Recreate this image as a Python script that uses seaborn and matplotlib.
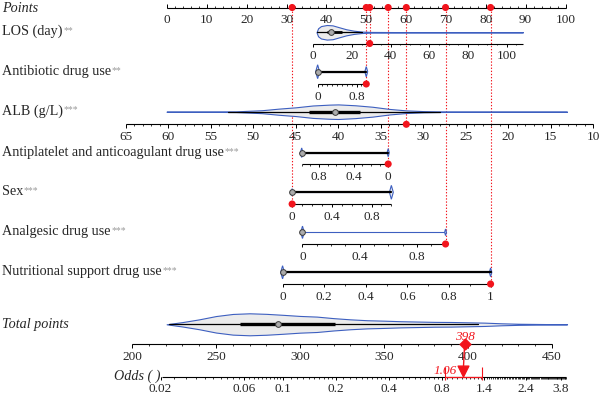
"""
Nomogram: LOS / drug use / ALB / sex -> total points -> odds.
Values read off the reference figure; saved to out.png.
"""

import numpy as np
import pandas as pd
import matplotlib
matplotlib.use("Agg")
import matplotlib.pyplot as plt
import seaborn as sns

# ── Data ─────────────────────────────────────────────────────────────────────
point_labels = list(range(0, 101, 10))

var_labels = ["LOS (day)", "Antibiotic drug use", "ALB (g/L)",
              "Antiplatelet and anticoagulant drug use", "Sex",
              "Analgesic drug use", "Nutritional support drug use"]
var_stars = ["**", "**", "***", "***", "***", "***", "***"]

# every scale is linear value -> points, fixed by two anchors
anchor_values = [(0, 100), (0, 1), (60, 10), (0, 1), (0, 1), (0, 1), (0, 1)]
anchor_points = [(36.7, 85.2), (37.8, 50.0), (0.3, 107.0), (55.5, 33.8),
                 (31.4, 56.3), (34.0, 69.9), (29.0, 81.2)]
scale_ranges = [(0, 108.5), (0, 1), (65, 10), (1, 0), (0, 1), (0, 1), (0, 1)]
scale_labels = [[0, 20, 40, 60, 80, 100],
                [0, 0.8],
                [65, 60, 55, 50, 45, 40, 35, 30, 25, 20, 15, 10],
                [0.8, 0.4, 0],
                [0, 0.4, 0.8],
                [0, 0.4, 0.8],
                [0, 0.2, 0.4, 0.6, 0.8, 1]]
minor_steps = [5, 0.1, 1, 0.1, 0.1, 0.1, 0.1]
patient_values = [29.2, 1, 32, 0, 0, 1, 1]

# continuous variables: violin profile (relative density) + box stats
los_grid = [1.7, 2.5, 4, 7, 10, 13, 17, 21, 25, 30, 50, 108.5]
los_density = [0.0, 0.55, 0.85, 1.0, 0.95, 0.72, 0.42, 0.22, 0.1, 0.05, 0.02, 0.0]
los_box = (1.7, 6.9, 9.1, 14.7, 25)          # whisker lo, q1, median, q3, whisker hi

alb_grid = [60.2, 55, 52, 49, 47, 45, 43, 41, 40, 38, 36, 34, 32, 30, 28, 25, 20, 13.1]
alb_density = [0.0, 0.02, 0.05, 0.2, 0.42, 0.6, 0.85, 0.97, 1.0, 0.88, 0.68,
               0.38, 0.18, 0.08, 0.04, 0.02, 0.01, 0.0]
alb_box = (53, 43.5, 40.4, 37.4, 28)

# binary variables (antibiotic, antiplatelet, sex, analgesic, nutritional)
bin_density_0 = [0.95, 0.55, 0.5, 0.85, 0.9]
bin_density_1 = [0.7, 0.65, 0.95, 0.45, 0.6]
bin_median = [0, 1, 0, 0, 0]
bin_has_box = [True, True, True, False, True]

total_labels = [200, 250, 300, 350, 400, 450]
total_anchor_values = (200, 450)
total_anchor_points = (-8.78, 96.6)
total_grid = [220.6, 230, 240, 250, 260, 270, 280, 290, 300, 310, 320, 330, 340,
              350, 360, 370, 380, 390, 400, 410, 420, 430, 459]
total_density = [0.0, 0.2, 0.45, 0.75, 0.94, 1.0, 0.95, 0.86, 0.76, 0.7, 0.56,
                 0.45, 0.37, 0.33, 0.28, 0.25, 0.22, 0.21, 0.18, 0.15, 0.09, 0.05, 0.0]
total_box = (222, 264, 287, 321, 406)
patient_total = 398

odds_labels = [0.02, 0.06, 0.1, 0.2, 0.4, 0.8, 1.4, 2.4, 3.8]
odds_anchor_values = (0.1, 1.06)
odds_anchor_points = (29.18, 74.35)
odds_range = (0.0205, 4.1)
patient_odds = 1.06
odds_ci = (0.83, 1.35)

# ── Layout / style ───────────────────────────────────────────────────────────
FIG_W, FIG_H = 600, 397
X0_PX, PX_PER_PT = 167, 3.985          # points 0 sits at x=167 px
POINTS_Y = 7.5
ROW_Y = [32.3, 71.7, 111.7, 152.7, 192.3, 232.3, 272.3]
AXIS_Y = [43.5, 84.0, 124.3, 164.0, 204.0, 244.0, 284.0]
TOTAL_ROW_Y, TOTAL_AXIS_Y, ODDS_Y = 324.3, 344.3, 376.7
HALF_W, TOTAL_HALF_W = 7.3, 11.0
LABEL_DY = 15.5
FS = 9.5          # tick labels
FS_NAME = 10.2    # row names

BLUE = "#3d5fc0"
FILL = "#ececec"
RED = "#f2141c"
GREY = "#ababab"
STAR = "#9a9a9a"

sns.set_theme(style="white")
plt.rcParams["font.family"] = ["Liberation Serif", "DejaVu Serif"]


def px(x):
    return (x - X0_PX) / PX_PER_PT


def lin_map(vals, pts):
    (v0, v1), (p0, p1) = vals, pts
    k = (p1 - p0) / (v1 - v0)
    return lambda v: p0 + (np.asarray(v, dtype=float) - v0) * k


def log_map(vals, pts):
    (v0, v1), (p0, p1) = vals, pts
    k = (p1 - p0) / (np.log10(v1) - np.log10(v0))
    return lambda v: p0 + (np.log10(np.asarray(v, dtype=float)) - np.log10(v0)) * k


def fmt(v):
    return f"{v:g}"


def steps(lo, hi, step):
    a, b = sorted((lo, hi))
    n = int(np.floor((b - a) / step + 1e-6))
    return a + step * np.arange(n + 1)


def draw_scale(ax, y, lo, hi, to_x, labels, minors, up=False):
    s = -1 if up else 1
    ax.plot([to_x(lo), to_x(hi)], [y, y], color="black", lw=0.8, solid_capstyle="butt")
    ax.vlines(to_x(minors), y, y + s * 1.8, color="black", lw=0.55)
    ax.vlines(to_x(labels), y, y + s * 3.2, color="black", lw=0.7)
    for v in labels:
        ax.text(to_x(v), y + LABEL_DY, fmt(v), ha="center", va="baseline", fontsize=FS)


def draw_violin(ax, y, grid, dens, to_x, half):
    xs = to_x(grid)
    h = np.asarray(dens) * half
    ax.fill_between(xs, y - h, y + h, facecolor=FILL, edgecolor=BLUE, lw=0.8, zorder=2)


def draw_box(ax, y, stats, to_x, thick=2.4):
    wl, q1, med, q3, wh = stats
    ax.plot(to_x([wl, wh]), [y, y], color="black", lw=0.9, zorder=3)
    ax.plot(to_x([q1, q3]), [y, y], color="black", lw=thick, solid_capstyle="butt", zorder=3)
    ax.scatter(to_x([med]), [y], s=17, color=GREY, edgecolor="#3a3a3a", lw=0.7, zorder=5)


def draw_lens(ax, x, y, h):
    w = max(0.9, 0.28 * h) / PX_PER_PT
    ax.fill([x - w, x, x + w, x], [y, y - h, y, y + h],
            facecolor=FILL, edgecolor=BLUE, lw=0.8, zorder=2)


def label(ax, y, text, stars=None, italic=False):
    t = ax.text(px(2), y, text, ha="left", va="baseline", fontsize=FS_NAME,
                style="italic" if italic else "normal")
    if stars:
        ax.annotate(stars, xy=(1, 0.93), xycoords=t, xytext=(0.4, 0),
                    textcoords="offset points", ha="left", va="top",
                    fontsize=7, color=STAR)


# ── Figure ───────────────────────────────────────────────────────────────────
fig = plt.figure(figsize=(FIG_W / 100, FIG_H / 100), dpi=100)
ax = fig.add_axes([0, 0, 1, 1])

# points scale
ident = lin_map((0, 100), (0, 100))
draw_scale(ax, POINTS_Y, 0, 100, ident, point_labels, steps(0, 100, 2), up=True)
label(ax, POINTS_Y + 4, "Points", italic=True)

maps = [lin_map(v, p) for v, p in zip(anchor_values, anchor_points)]
patient_pts = [float(m(v)) for m, v in zip(maps, patient_values)]

bin_i = 0
for i, name in enumerate(var_labels):
    m, y, ay = maps[i], ROW_Y[i], AXIS_Y[i]
    lo, hi = scale_ranges[i]
    label(ax, y + 3, name, var_stars[i])
    draw_scale(ax, ay, lo, hi, m, scale_labels[i], steps(lo, hi, minor_steps[i]))

    if name.startswith("LOS"):
        draw_violin(ax, y, los_grid, los_density, m, HALF_W)
        draw_box(ax, y, los_box, m, thick=2.0)
    elif name.startswith("ALB"):
        draw_violin(ax, y, alb_grid, alb_density, m, HALF_W)
        draw_box(ax, y, alb_box, m)
    else:
        x0, x1 = float(m(0)), float(m(1))
        ax.plot([x0, x1], [y, y], color=BLUE, lw=0.8, zorder=2)
        draw_lens(ax, x0, y, bin_density_0[bin_i] * HALF_W)
        draw_lens(ax, x1, y, bin_density_1[bin_i] * HALF_W)
        if bin_has_box[bin_i]:
            ax.plot([x0, x1], [y, y], color="black", lw=1.6, zorder=3)
        ax.scatter(m([bin_median[bin_i]]), [y], s=17, color=GREY,
                   edgecolor="#3a3a3a", lw=0.7, zorder=5)
        bin_i += 1

    # dotted guide from the points scale down to the patient's value
    ax.plot([patient_pts[i]] * 2, [POINTS_Y, ay], color=RED, lw=0.8,
            linestyle=(0, (1.2, 1.6)), zorder=1)

dots = pd.DataFrame({
    "x": patient_pts + patient_pts,
    "y": [POINTS_Y] * len(patient_pts) + AXIS_Y,
})
sns.scatterplot(data=dots, x="x", y="y", ax=ax, s=26, color=RED,
                edgecolor="none", zorder=6, legend=False)

# total points
tmap = lin_map(total_anchor_values, total_anchor_points)
label(ax, TOTAL_ROW_Y + 4, "Total points", italic=True)
draw_violin(ax, TOTAL_ROW_Y, total_grid, total_density, tmap, TOTAL_HALF_W)
draw_box(ax, TOTAL_ROW_Y, total_box, tmap)
draw_scale(ax, TOTAL_AXIS_Y, 200, 450, tmap, total_labels, steps(200, 450, 10))

# odds: ten subdivisions between labels, finer toward the right end
omap = log_map(odds_anchor_values, odds_anchor_points)
odds_minor = np.concatenate(
    [np.linspace(a, b, 11) for a, b in zip(odds_labels[:-3], odds_labels[1:-2])]
    + [np.arange(odds_labels[-3], odds_range[1], 0.04)])
draw_scale(ax, ODDS_Y, odds_range[0], odds_range[1], omap, odds_labels, odds_minor)
ax.text(px(160.5), ODDS_Y + 3, "Odds ( )", ha="right", va="baseline",
        fontsize=FS_NAME, style="italic")

# patient result
xt = float(tmap(patient_total))
xo = float(omap(patient_odds))
ax.plot([xt, xo], [TOTAL_AXIS_Y, ODDS_Y - 6], color=RED, lw=1.0, zorder=6)
ax.scatter([xt], [TOTAL_AXIS_Y], marker="D", s=30, color=RED, zorder=7)
ax.text(xt, TOTAL_AXIS_Y - 4, fmt(patient_total), color=RED, ha="center",
        va="baseline", fontsize=FS, style="italic")
ax.scatter([xo], [ODDS_Y - 6], marker="v", s=60, color=RED, zorder=7)
ax.plot(omap(list(odds_ci)), [ODDS_Y, ODDS_Y], color=RED, lw=0.9, zorder=6)
ax.vlines(omap(list(odds_ci)), ODDS_Y - 10, ODDS_Y + 3.5, color=RED, lw=0.8, zorder=6)
ax.text(xo - 6.5 / PX_PER_PT, ODDS_Y - 3, fmt(patient_odds), color=RED, ha="right",
        va="baseline", fontsize=FS, style="italic")

ax.set_xlim(px(0), px(FIG_W))
ax.set_ylim(FIG_H, 0)
ax.set_axis_off()

fig.savefig("out.png", dpi=100)
plt.close(fig)
